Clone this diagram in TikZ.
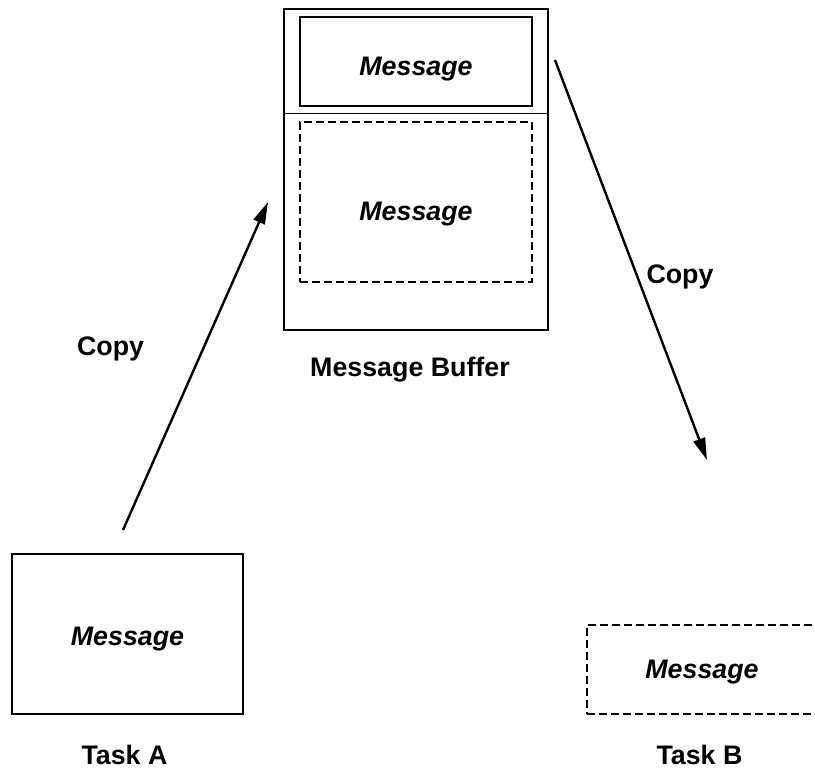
\documentclass[tikz,border=0pt]{standalone}
\usepackage{fontspec}
\setmainfont{Liberation Sans}
\usetikzlibrary{arrows.meta,positioning}
\tikzset{
  bufbox/.style={
    rectangle, draw, line width=0.6pt,
    minimum width=132pt, minimum height=160.5pt,
    inner sep=0pt
  },
  msgbox/.style={
    rectangle, draw, line width=0.8pt,
    minimum width=#1, minimum height=44.5pt,
    font=\fontsize{13.4}{16}\selectfont\bfseries\itshape,
    text depth=0pt, inner sep=0pt
  },
  msgbox/.default=116pt,
  dashbox/.style={
    msgbox=#1, line width=1.3pt, dash pattern=on 3.8pt off 2.2pt
  },
  dashbox/.default=116pt,
  namelabel/.style={
    font=\fontsize{13.4}{16}\selectfont\bfseries,
    text depth=0pt, inner sep=0pt
  },
  copyarrow/.style={
    -{Triangle[length=11pt,width=6pt]}, line width=1.2pt
  },
}
\begin{document}
\begin{tikzpicture}[x=0.5pt,y=-0.5pt]
\useasboundingbox (0,0) rectangle (815,770);

% Message buffer
\node[bufbox] (buf) at (416,169.5) {};
\node[msgbox, text height=14pt] (msgTop) at (416,61.5) {Message};
\node[dashbox, minimum height=80pt, text height=18.6pt] (msgFree) at (416,202) {Message};
\path (msgTop.south) -- (msgFree.north) coordinate[midway] (divMid);
\draw[line width=0.6pt] (buf.west |- divMid) -- (buf.east |- divMid);
\node[namelabel] (bufName) at (410,367) {Message Buffer};

% Tasks
\node[msgbox=115.5pt, minimum height=80pt, text height=11.6pt] (msgA) at (127.5,634) {Message};
\node[namelabel] (taskA) at (124.5,755) {Task A};
\node[dashbox=115pt] (msgB) at (702,669.5) {Message};
\node[namelabel] (taskB) at (699.5,755) {Task B};

% Copy arrows
\coordinate (upStart) at (123,530);
\coordinate (upEnd) at (268,202);
\coordinate (downStart) at (555,60);
\coordinate (downEnd) at (707,460);
\draw[copyarrow] (upStart) -- node[namelabel, pos=.561, left=29.5pt] {Copy} (upEnd);
\draw[copyarrow] (downStart) -- node[namelabel, pos=.535, right=4.5pt] {Copy} (downEnd);

\end{tikzpicture}
\end{document}
